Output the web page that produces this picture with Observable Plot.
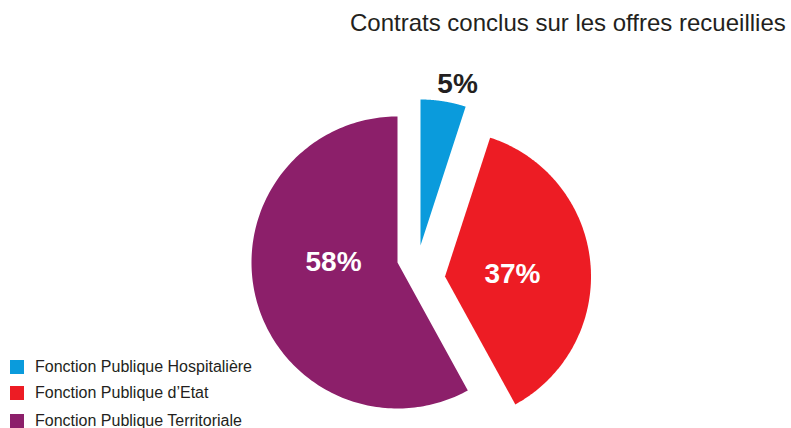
<!DOCTYPE html>
<html>
<head>
<meta charset="utf-8">
<script src="https://cdn.jsdelivr.net/npm/d3@7"></script>
<script src="https://cdn.jsdelivr.net/npm/@observablehq/plot@0.6"></script>
<style>
  html, body { margin: 0; padding: 0; background: #fff; }
  #wrap { position: relative; width: 791px; height: 428px; overflow: hidden; font-family: "Liberation Sans", Arial, sans-serif; }
  #title { position: absolute; left: 350px; top: 9px; font-size: 24px; color: #231f20; white-space: nowrap; }
  #legend { position: absolute; left: 10px; top: 357px; font-size: 16px; color: #231f20; }
  .row { position: absolute; left: 0; white-space: nowrap; height: 20px; line-height: 20px; }
  .sw { position: absolute; left: 0; top: 3px; width: 14px; height: 14px; }
  .lb { position: absolute; left: 25px; top: 0; }
</style>
</head>
<body>
<div id="wrap">
  <div id="chart"></div>
  <div id="title"></div>
  <div id="legend"></div>
</div>
<script>
// ---- data ----
const categories = ["Fonction Publique Hospitalière", "Fonction Publique d’Etat", "Fonction Publique Territoriale"];
const values = [5, 37, 58];
const labels = ["5%", "37%", "58%"];
const title = "Contrats conclus sur les offres recueillies";

// ---- styles / layout ----
const colors = ["#0a9bdc", "#ed1c24", "#8c1f6a"];
const labelColors = ["#231f20", "#ffffff", "#ffffff"];
const W = 791, H = 428;
const cx = 397, cy = 262, R = 146;
const explode = [[23, -17], [47.5, 14], [0, 0]];         // pixel offsets of each slice
const labelPolar = [[12.9, 166], [88.3, 67.5], [270, 64]]; // [angle deg, distance] from slice vertex

const arcs = d3.pie().sort(null).value(d => d)(values);

const marks = [];
arcs.forEach((a, i) => {
  const [dx, dy] = explode[i];
  const ox = cx + dx, oy = cy + dy;
  const pts = [{x: ox, y: oy}];
  const n = 180;
  for (let k = 0; k <= n; k++) {
    const t = a.startAngle + (a.endAngle - a.startAngle) * k / n;
    pts.push({x: ox + R * Math.sin(t), y: oy - R * Math.cos(t)});
  }
  pts.push({x: ox, y: oy});
  marks.push(Plot.line(pts, {x: "x", y: "y", fill: colors[i], stroke: "none", curve: "linear"}));
});

const labelData = arcs.map((a, i) => {
  const [dx, dy] = explode[i];
  const [ang, dist] = labelPolar[i];
  const r = ang * Math.PI / 180;
  return {x: cx + dx + dist * Math.sin(r), y: cy + dy - dist * Math.cos(r), text: labels[i], color: labelColors[i]};
});
marks.push(Plot.text(labelData, {
  x: "x", y: "y", text: "text", fill: d => d.color,
  fontSize: 28, fontWeight: "bold", fontFamily: "Liberation Sans, Arial, sans-serif"
}));

const chart = Plot.plot({
  width: W, height: H,
  margin: 0,
  x: {domain: [0, W], range: [0, W], axis: null},
  y: {domain: [0, H], range: [0, H], axis: null},
  style: {background: "transparent"},
  marks
});
document.getElementById("chart").appendChild(chart);

document.getElementById("title").textContent = title;
const leg = document.getElementById("legend");
const rowTops = [0, 26, 54];
categories.forEach((c, i) => {
  const row = document.createElement("div");
  row.className = "row";
  row.style.top = rowTops[i] + "px";
  const sw = document.createElement("div");
  sw.className = "sw";
  sw.style.background = colors[i];
  const lb = document.createElement("div");
  lb.className = "lb";
  lb.textContent = c;
  row.appendChild(sw); row.appendChild(lb);
  leg.appendChild(row);
});
</script>
</body>
</html>
